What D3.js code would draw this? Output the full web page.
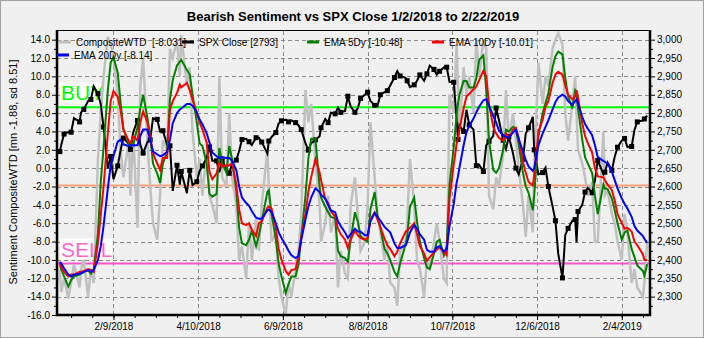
<!DOCTYPE html>
<html><head><meta charset="utf-8">
<script src="https://cdn.jsdelivr.net/npm/d3@7"></script>
<style>
body{margin:0;background:#f0f0f0}
svg{display:block;font-family:Arial,"Liberation Sans",sans-serif}
</style>
</head><body><svg id="c" width="704" height="338"></svg>
<script>
// ---------- DATA ----------
const dates = [
"1/2/18","1/3/18","1/5/18","1/8/18","1/10/18","1/12/18","1/16/18","1/17/18","1/19/18","1/22/18","1/24/18","1/26/18","1/29/18","1/31/18",
"2/2/18","2/5/18","2/7/18","2/9/18","2/12/18","2/14/18","2/16/18","2/20/18","2/21/18","2/23/18","2/26/18","2/28/18",
"3/2/18","3/5/18","3/7/18","3/9/18","3/12/18","3/14/18","3/16/18","3/19/18","3/21/18","3/23/18","3/26/18","3/28/18","3/29/18",
"4/2/18","4/4/18","4/6/18","4/9/18","4/11/18","4/13/18",
"4/16/18","4/18/18","4/20/18","4/23/18","4/25/18","4/27/18","4/30/18",
"5/2/18","5/4/18","5/7/18","5/9/18","5/11/18","5/14/18","5/16/18","5/18/18","5/21/18","5/23/18","5/25/18","5/29/18","5/30/18",
"6/1/18","6/4/18","6/6/18","6/8/18","6/11/18","6/13/18","6/15/18","6/18/18","6/20/18","6/22/18","6/25/18","6/27/18","6/29/18",
"7/2/18","7/5/18","7/6/18","7/9/18","7/11/18","7/13/18","7/16/18","7/18/18","7/20/18","7/23/18","7/25/18","7/27/18","7/30/18",
"8/1/18","8/3/18","8/6/18","8/8/18","8/10/18","8/13/18","8/15/18","8/17/18","8/20/18","8/22/18","8/24/18","8/27/18","8/29/18","8/31/18",
"9/4/18","9/5/18","9/7/18","9/10/18","9/12/18","9/14/18","9/17/18","9/19/18","9/21/18","9/24/18","9/26/18","9/28/18",
"10/1/18","10/3/18","10/5/18","10/8/18","10/10/18","10/11/18","10/12/18","10/15/18","10/17/18","10/19/18","10/22/18","10/24/18","10/26/18","10/29/18","10/31/18",
"11/2/18","11/5/18","11/7/18","11/9/18","11/12/18",
"11/14/18","11/16/18","11/19/18","11/21/18","11/23/18","11/26/18","11/28/18","11/30/18",
"12/3/18","12/4/18","12/7/18","12/10/18","12/12/18","12/14/18","12/17/18","12/19/18","12/21/18","12/24/18","12/26/18","12/28/18","12/31/18",
"1/2/19","1/3/19","1/4/19","1/7/19","1/9/19","1/11/19","1/14/19","1/16/19","1/18/19","1/22/19","1/23/19","1/25/19","1/28/19","1/30/19",
"2/1/19","2/4/19","2/6/19","2/8/19","2/11/19","2/13/19","2/15/19","2/19/19","2/20/19","2/22/19"
];
const compositeWTD = [
-11,-13.5,-12,-14.2,-12.5,-10.5,-13,-11,-10,-14,-11,-12.5,1,6,
10,14.3,13.5,12,8,2,-1,3,-3,4,-6.5,9,
12,3,-2,-6,-7.8,-3,3,2,13,12,14,10,14.5,
9,11,4,-1,1,-3,
2,-3,-4,-6,10,-1,-2,
6,-1,-4,-10,-8.5,-12,-6,-10,-5.5,-9,-4,2,-2,
-8,-7,-12,-14,-16,-12.5,-14,-11,-9,-5,8.5,5,7,
1,-4,-8,-6,-3,-7,-5,-13,-9,-11.5,-12,-4,-1,
-5,-9,-8,-4,5,-1,-5,-7,-10,-8,-12.5,-13,-15,-9,
-8,-6,1,-4,-10,-11,-14,-10,-11,-8,-6,-8,
-12,-12.5,8,6,13.5,9,4,11,8,10,6,14,10,14,13,
-3,-4.5,-1,-2,1.5,
8.5,3,6,3,0,-4,-7.5,-3,
-7,0,11.5,7,10,9,13,14,14.7,13.5,6,3,7,
10,6,2,0.5,-1,-3,-1.5,-8,-8,4,-3,-2.5,-5,-6,
-8,-10,-5,-7,-12.5,-11,-13,-14,-12.5,-8.031
];
const spxClose = [
2695,2713,2743,2748,2748,2786,2776,2802,2810,2833,2837,2873,2853,2824,
2762,2649,2682,2620,2656,2698,2732,2716,2701,2748,2780,2714,
2691,2721,2727,2786,2783,2750,2752,2713,2711,2588,2658,2605,2641,
2582,2644,2604,2613,2642,2656,
2678,2708,2670,2670,2639,2670,2648,
2636,2663,2672,2697,2728,2730,2722,2713,2733,2733,2721,2690,2724,
2735,2747,2772,2779,2782,2776,2780,2774,2767,2755,2718,2699,2718,
2727,2737,2760,2784,2774,2801,2798,2815,2802,2806,2846,2818,2802,
2813,2840,2850,2857,2833,2821,2819,2850,2857,2861,2875,2897,2914,2901,
2896,2888,2871,2877,2888,2904,2888,2907,2929,2919,2905,2914,
2924,2925,2885,2884,2786,2728,2767,2750,2809,2768,2755,2657,2659,2641,2712,
2723,2738,2814,2781,2726,
2702,2736,2690,2650,2633,2674,2744,2760,
2790,2700,2633,2638,2651,2600,2546,2507,2417,2351,2468,2486,2507,
2510,2448,2532,2550,2585,2596,2583,2616,2671,2633,2639,2665,2644,2681,
2707,2725,2731,2708,2709,2754,2776,2780,2784,2793
];
const ema5 = [
-10.6,-11.0,-11.8,-12.9,-12.2,-11.8,-11.6,-11.5,-11.3,-11.1,-11.5,-11.0,-7.1,-1.5,
2.3,8.5,11.5,12.1,10.4,7.2,4.3,2.6,2.8,2.5,4.5,6.5,
8.0,5.5,3.5,0.5,-0.6,-1.6,0.5,1.8,7.5,9.6,11.2,11.6,11.8,
10.7,10.2,8.0,5.0,2.7,2.4,
0.5,-2.8,-3.1,-2.8,2.2,0.5,-0.5,
2.4,1.0,-2.5,-6.5,-8.2,-8.4,-7.8,-6.8,-8.5,-7.3,-5.8,-2.6,-2.4,
-5.0,-7.8,-10.4,-11.8,-13.6,-12.6,-11.8,-11.8,-10.5,-7.5,-3.0,1.0,3.2,
3.2,-2.0,-3.2,-4.2,-4.8,-5.3,-5.5,-9.0,-9.6,-9.8,-10.2,-7.8,-4.8,
-5.8,-7.4,-7.8,-8.0,-4.5,-2.6,-5.2,-6.5,-8.8,-9.3,-10.0,-11.3,-11.8,-10.4,
-8.2,-7.5,-4.2,-3.2,-5.8,-8.0,-9.8,-10.8,-11.0,-9.3,-8.0,-7.8,
-9.5,-8.5,-1.8,2.3,5.8,7.0,8.0,9.5,9.5,8.8,8.8,9.8,11.8,12.3,8.5,
3.0,-0.2,-0.5,0.0,2.0,
4.2,4.0,4.5,4.3,2.6,-0.5,-2.0,-2.7,
-4.6,-3.0,3.5,6.0,7.1,8.2,11.0,12.2,12.7,12.4,9.8,7.8,6.5,
8.5,8.3,6.5,3.1,1.2,0.5,-0.5,-3.0,-5.0,-1.8,-2.2,-2.3,-3.3,-4.6,
-6.0,-7.8,-7.0,-6.8,-8.8,-9.7,-10.6,-11.2,-11.7,-10.48
];
const ema10 = [
-10.3,-10.8,-11.3,-11.8,-11.6,-11.6,-11.3,-11.3,-11.2,-11.0,-11.1,-11.3,-8.2,-5.0,
-2.0,3.8,7.3,8.4,7.8,6.4,4.2,2.9,2.7,3.5,3.0,5.0,
6.2,5.0,3.4,1.6,0.5,-0.2,1.1,1.1,6.4,7.3,8.2,9.1,8.8,
9.3,8.5,7.5,6.0,5.0,4.2,
2.8,-0.4,-1.2,-0.6,0.6,0.2,0.3,
0.3,0.6,-1.8,-4.5,-6.0,-6.2,-6.0,-6.7,-7.4,-6.0,-5.8,-4.3,-4.2,
-4.4,-6.5,-8.8,-10.0,-11.2,-11.6,-11.1,-11.0,-9.6,-7.5,-5.0,-2.6,-1.0,
1.0,-0.5,-1.3,-3.4,-3.8,-4.7,-5.3,-6.6,-7.2,-7.8,-8.7,-7.8,-6.8,
-7.3,-7.6,-7.8,-7.6,-5.6,-4.8,-5.6,-6.4,-7.7,-8.4,-8.8,-9.6,-9.1,-8.2,
-6.9,-6.8,-6.5,-6.0,-7.2,-8.5,-9.3,-10.1,-9.7,-9.2,-8.9,-8.6,
-9.2,-9.5,-3.3,0.4,2.6,3.3,4.2,6.5,7.8,8.1,8.6,8.9,9.6,10.6,10.0,
6.9,4.5,3.8,3.3,3.0,
3.8,3.3,4.2,4.4,3.3,0.7,-0.5,-1.5,
-1.9,-0.8,4.0,5.3,6.7,7.3,9.3,10.2,10.5,10.2,9.0,8.0,7.5,
7.8,8.5,7.7,4.9,3.5,2.7,1.7,0.0,-0.9,-1.0,-1.3,-1.8,-2.4,-3.5,
-5.0,-6.0,-6.6,-6.5,-6.9,-8.0,-8.4,-9.4,-10.0,-10.01
];
const ema20 = [
-10.2,-10.4,-10.9,-11.6,-11.8,-11.6,-11.5,-11.45,-11.3,-11.1,-11.3,-11.1,-10.0,-8.5,
-6.3,-2.2,0.3,1.3,2.9,3.1,2.6,2.4,2.5,2.5,2.5,3.5,
4.2,4.2,3.1,1.8,1.5,1.3,1.4,1.8,3.1,4.9,6.0,6.4,6.5,
7.0,7.0,6.8,6.1,5.3,4.8,
3.8,2.8,1.7,1.3,1.1,1.2,1.1,
1.1,0.8,-0.2,-2.0,-3.2,-3.8,-4.1,-4.7,-5.4,-5.5,-5.5,-4.6,-4.5,
-4.8,-6.0,-7.0,-7.6,-8.4,-9.0,-9.5,-9.8,-9.6,-7.8,-5.6,-4.2,-3.2,
-2.2,-2.6,-2.9,-3.3,-4.0,-4.6,-4.8,-5.8,-6.3,-7.0,-7.6,-7.2,-6.6,
-6.9,-6.9,-7.3,-7.3,-5.8,-4.9,-5.3,-5.7,-6.4,-6.7,-7.0,-8.2,-8.7,-8.7,
-8.4,-8.0,-7.0,-6.2,-6.6,-7.2,-7.8,-8.9,-9.1,-9.1,-8.6,-8.5,
-9.1,-8.8,-6.3,-3.9,-1.6,-0.9,0.0,2.5,3.9,4.6,5.4,6.1,6.7,7.4,7.5,
6.8,5.7,5.0,4.1,3.6,
3.4,3.3,3.9,4.2,3.2,1.8,0.9,0.2,
-0.3,0.0,2.5,3.8,4.5,5.2,6.4,7.2,7.7,8.0,7.8,7.3,6.9,
7.3,7.5,7.0,5.6,4.8,4.3,3.6,2.5,1.2,0.8,0.7,0.5,-0.4,-1.3,
-2.2,-3.3,-3.9,-4.4,-5.3,-6.3,-6.8,-7.4,-7.7,-8.14
];
const leftTicks = [14,12,10,8,6,4,2,0,-2,-4,-6,-8,-10,-12,-14,-16];
const rightTicks = [3000,2950,2900,2850,2800,2750,2700,2650,2600,2550,2500,2450,2400,2350,2300];
const dateTicks = ["2/9/2018","4/10/2018","6/9/2018","8/8/2018","10/7/2018","12/6/2018","2/4/2019"];
const meanLevel = -1.88, buyLevel = 6.63, sellLevel = -10.39;
const legendLabels = ["CompositeWTD  [-8.031]","SPX Close [2793]","EMA 5Dy [-10.48]","EMA 10Dy [-10.01]","EMA 20Dy [-8.14]"];
const titleText = "Bearish Sentiment vs SPX Close 1/2/2018 to 2/22/2019";
const yTitle = "Sentiment CompositeWTD [mn -1.88, sd 8.51]";

// ---------- LAYOUT ----------
const L=57, R=650, T=30.5, B=315;
const parse = d3.timeParse("%m/%d/%y");
const parseTick = d3.timeParse("%m/%d/%Y");
const xd = dates.map(parse);
const x = d3.scaleTime().domain([new Date(2017,11,31), new Date(2019,1,24)]).range([L,R]);
const y = d3.scaleLinear().domain([-16,15]).range([B,T]);
const y2 = d3.scaleLinear().domain([2250,3025]).range([B,T]);

const svg = d3.select("#c");
svg.append("rect").attr("width",704).attr("height",338).attr("fill","#f0f0f0");
svg.append("rect").attr("x",0.5).attr("y",0.5).attr("width",703).attr("height",337)
  .attr("fill","none").attr("stroke","#a0a0a0");

// grid
const grid = svg.append("g").attr("stroke","#8a8a8a").attr("stroke-dasharray","4,3").attr("shape-rendering","crispEdges");
grid.selectAll("line.h").data(leftTicks.filter(d=>d>-16)).join("line")
  .attr("x1",L).attr("x2",R).attr("y1",d=>Math.round(y(d))+0.5).attr("y2",d=>Math.round(y(d))+0.5);
grid.selectAll("line.v").data(dateTicks.map(parseTick)).join("line").attr("class","v")
  .attr("y1",T).attr("y2",B).attr("x1",d=>Math.round(x(d))+0.5).attr("x2",d=>Math.round(x(d))+0.5);

svg.append("clipPath").attr("id","clip").append("rect").attr("x",L).attr("y",T).attr("width",R-L).attr("height",B-T);
const plot = svg.append("g").attr("clip-path","url(#clip)");

// label boxes (under lines)
function levelLabel(txt,color,x0,w,level){
  const yy = y(level);
  plot.append("rect").attr("x",x0).attr("y",yy-25).attr("width",w).attr("height",21).attr("fill","#ffffff");
  plot.append("text").attr("x",x0+1).attr("y",yy-7).attr("fill",color).attr("font-size",21).text(txt);
}
levelLabel("BUY","#00ff00",60,41,buyLevel);
levelLabel("SELL","#ff66cc",60,52,sellLevel);

// reference lines
[[meanLevel,"#ffa07a"],[buyLevel,"#00ff00"],[sellLevel,"#ff55cc"]].forEach(([v,c])=>{
  plot.append("line").attr("x1",L).attr("x2",R).attr("y1",y(v)).attr("y2",y(v)).attr("stroke",c).attr("stroke-width",2);
});

// series
const line = (vals, sc) => d3.line().x((d,i)=>x(xd[i])).y(d=>sc(d))(vals);
plot.append("path").attr("d",line(compositeWTD,y)).attr("fill","none").attr("stroke","#c0c0c0").attr("stroke-width",2.5);
plot.append("path").attr("d",line(spxClose,y2)).attr("fill","none").attr("stroke","#000").attr("stroke-width",2);
plot.selectAll("rect.m").data(spxClose.map((v,i)=>[i,v]).filter(d=>d[0]%2===0)).join("rect").attr("class","m")
  .attr("x",d=>x(xd[d[0]])-2.5).attr("y",d=>y2(d[1])-2.5).attr("width",5).attr("height",5).attr("fill","#000");
[[ema5,"#008000"],[ema10,"#ff0000"],[ema20,"#0000ff"]].forEach(([s,c])=>{
  plot.append("path").attr("d",line(s,y)).attr("fill","none").attr("stroke",c).attr("stroke-width",2);
});

// axes
const fs = 10;
const ax = svg.append("g").attr("font-size",fs);
const gl = ax.append("g").attr("transform",`translate(${L},0)`)
  .call(d3.axisLeft(y).tickValues(leftTicks).tickSize(5).tickPadding(2).tickFormat(d=>d.toFixed(1)));
gl.append("g").call(d3.axisLeft(y).tickValues(d3.range(-15,15,2)).tickSize(3).tickFormat(""));
const gr = ax.append("g").attr("transform",`translate(${R},0)`)
  .call(d3.axisRight(y2).tickValues(rightTicks).tickSize(5).tickPadding(2).tickFormat(d3.format(",")));
gr.append("g").call(d3.axisRight(y2).tickValues(d3.range(2275,3025,50)).tickSize(3).tickFormat(""));
const t0 = parseTick(dateTicks[0]);
const minorDates = d3.range(-2,28).map(k=>d3.timeDay.offset(t0,15*k)).filter(d=>x(d)>=L && x(d)<=R);
const gb = ax.append("g").attr("transform",`translate(0,${B})`)
  .call(d3.axisBottom(x).tickValues(dateTicks.map(parseTick)).tickSize(5).tickPadding(3).tickFormat(d3.timeFormat("%-m/%-d/%Y")));
gb.append("g").call(d3.axisBottom(x).tickValues(minorDates).tickSize(3).tickFormat(""));
ax.selectAll(".domain").remove();
ax.selectAll("text").attr("fill","#000").attr("font-family","Arial, 'Liberation Sans', sans-serif");
ax.selectAll("line").attr("stroke","#000");

// frame
const fr = svg.append("g").attr("stroke","#000").attr("fill","none");
fr.append("line").attr("x1",L).attr("x2",L).attr("y1",T-0.5).attr("y2",B+1).attr("stroke-width",2.5);
fr.append("line").attr("x1",R).attr("x2",R).attr("y1",T-0.5).attr("y2",B+1).attr("stroke-width",2.5);
fr.append("line").attr("x1",L-1).attr("x2",R+1).attr("y1",B).attr("y2",B).attr("stroke-width",2.5);
fr.append("line").attr("x1",L).attr("x2",R).attr("y1",T).attr("y2",T).attr("stroke-width",1);

// legend
const legColors = ["#c0c0c0","#000000","#008000","#ff0000","#0000ff"];
const legPos = [[59,42],[182,42],[307,42],[432,42],[57,55]];
const lg = svg.append("g").attr("font-size",10);
legendLabels.forEach((t,i)=>{
  const [lx,ly]=legPos[i];
  lg.append("line").attr("x1",lx).attr("x2",lx+12).attr("y1",ly).attr("y2",ly).attr("stroke",legColors[i]).attr("stroke-width",3);
  lg.append("text").attr("x",lx+17).attr("y",ly+3.5).attr("fill","#000").style("white-space","pre").text(t);
});

// titles
svg.append("text").attr("x",353).attr("y",21).attr("text-anchor","middle").attr("font-size",13)
  .attr("font-weight","bold").attr("fill","#000").text(titleText);
svg.append("text").attr("transform","translate(17,172) rotate(-90)").attr("text-anchor","middle")
  .attr("font-size",11).attr("fill","#000").text(yTitle);
</script>
</body></html>
